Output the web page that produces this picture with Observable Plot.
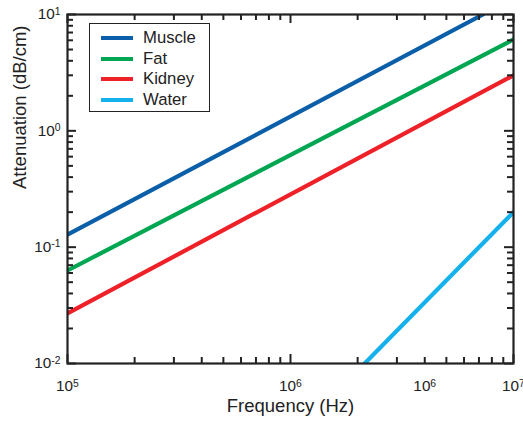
<!DOCTYPE html>
<html>
<head>
<meta charset="utf-8">
<script src="https://cdn.jsdelivr.net/npm/d3@7"></script>
<script src="https://cdn.jsdelivr.net/npm/@observablehq/plot@0.6"></script>
<style>
  body { margin: 0; background: #fff; }
  #wrap { position: relative; width: 523px; height: 421px; font-family: "Liberation Sans", Arial, Helvetica, sans-serif; }
  #legend { position: absolute; left: 89px; top: 23px; width: 119px; height: 87px; border: 1.5px solid #222; background: #fff; }
  .item { position: absolute; left: 11px; height: 20px; display: flex; align-items: center; font-size: 16.7px; color: #222; }
  .sw { width: 32px; height: 4px; margin-right: 10px; }
</style>
</head>
<body>
<div id="wrap"><div id="legend"></div></div>
<script>
// ---- data ----
const series = ["Muscle", "Fat", "Kidney", "Water"];
const muscleFreq = [1e5, 7.3e6];
const muscleAtt  = [0.128, 10];
const fatFreq    = [1e5, 1e7];
const fatAtt     = [0.063, 6.1];
const kidneyFreq = [1e5, 1e7];
const kidneyAtt  = [0.027, 3.0];
const waterFreq  = [2.15e6, 1e7];
const waterAtt   = [0.01, 0.2];

// tick labels
const xLabelValues = [1e5, 1e6, 4e6, 1e7];
const xLabelTexts  = ["10^5", "10^6", "10^6", "10^7"];
const yLabelValues = [1e-2, 1e-1, 1, 10];
const yLabelTexts  = ["10^-2", "10^-1", "10^0", "10^1"];
const xTitle = "Frequency (Hz)";
const yTitle = "Attenuation (dB/cm)";

// styles
const seriesColors = ["#0b5fa9", "#00a651", "#ee2028", "#14b1ec"];

// ---- build table ----
const freqs = [muscleFreq, fatFreq, kidneyFreq, waterFreq];
const atts  = [muscleAtt, fatAtt, kidneyAtt, waterAtt];
const rows = [];
series.forEach((s, i) => freqs[i].forEach((f, j) => rows.push({series: s, freq: f, att: atts[i][j]})));

const xMajor = [1e5, 1e6, 1e7];
const xMinor = [];
[1e5, 1e6].forEach(d => { for (let k = 2; k <= 9; k++) xMinor.push(k * d); });
const yMajor = [1e-2, 1e-1, 1, 10];
const yMinor = [];
[1e-2, 1e-1, 1].forEach(d => { for (let k = 2; k <= 9; k++) yMinor.push(k * d); });

const W = 523, H = 421, mL = 67, mR = 10, mT = 14, mB = 58;
const innerW = W - mL - mR, innerH = H - mT - mB;
const major = 9, minor = 6;
const ink = "#222";
const tk = { stroke: ink, strokeWidth: 2 };

const chart = Plot.plot({
  width: W, height: H,
  marginLeft: mL, marginRight: mR, marginTop: mT, marginBottom: mB,
  style: { fontFamily: "Liberation Sans, Arial, Helvetica, sans-serif", fontSize: "15.3px", color: ink, background: "#fff" },
  x: { type: "log", domain: [1e5, 1e7], axis: null },
  y: { type: "log", domain: [1e-2, 10], axis: null },
  color: { domain: series, range: seriesColors },
  marks: [
    Plot.line(rows, { x: "freq", y: "att", z: "series", stroke: "series", strokeWidth: 4.2, clip: true }),
    // inward ticks on all four sides
    Plot.tickX(xMajor, { x: d => d, insetTop: innerH - major, ...tk }),
    Plot.tickX(xMinor, { x: d => d, insetTop: innerH - minor, ...tk }),
    Plot.tickX(xMajor, { x: d => d, insetBottom: innerH - major, ...tk }),
    Plot.tickX(xMinor, { x: d => d, insetBottom: innerH - minor, ...tk }),
    Plot.tickY(yMajor, { y: d => d, insetRight: innerW - major, ...tk }),
    Plot.tickY(yMinor, { y: d => d, insetRight: innerW - minor, ...tk }),
    Plot.tickY(yMajor, { y: d => d, insetLeft: innerW - major, ...tk }),
    Plot.tickY(yMinor, { y: d => d, insetLeft: innerW - minor, ...tk }),
    // tick labels
    Plot.text(xLabelValues, { x: d => d, text: (d, i) => xLabelTexts[i], frameAnchor: "bottom", lineAnchor: "middle", dy: 23, fill: ink }),
    Plot.text(yLabelValues, { y: d => d, text: (d, i) => yLabelTexts[i], frameAnchor: "left", textAnchor: "end", lineAnchor: "middle", dx: -7, fill: ink }),
    // axis titles
    Plot.text([xTitle], { text: d => d, frameAnchor: "bottom", lineAnchor: "middle", dy: 43, fontSize: 18.5, fill: ink }),
    Plot.text([yTitle], { text: d => d, frameAnchor: "left", lineAnchor: "middle", rotate: -90, dx: -47, fontSize: 18.5, fill: ink }),
    Plot.frame({ stroke: ink, strokeWidth: 2.2 })
  ]
});

// superscript exponents in tick labels
d3.select(chart).selectAll("text").each(function () {
  const t = this.textContent;
  if (t.includes("^")) {
    const [base, exp] = t.split("^");
    const sel = d3.select(this);
    sel.text(null);
    sel.append("tspan").text(base);
    sel.append("tspan").attr("dy", "-0.45em").attr("font-size", "0.68em").text(exp);
  }
});

document.getElementById("wrap").prepend(chart);
chart.style.position = "absolute";
chart.style.left = "0";
chart.style.top = "0";

const legend = document.getElementById("legend");
series.forEach((s, i) => {
  const it = document.createElement("div");
  it.className = "item";
  it.style.top = (4 + i * 20.7) + "px";
  const sw = document.createElement("div");
  sw.className = "sw";
  sw.style.background = seriesColors[i];
  const tx = document.createElement("span");
  tx.textContent = s;
  it.append(sw, tx);
  legend.append(it);
});
</script>
</body>
</html>
